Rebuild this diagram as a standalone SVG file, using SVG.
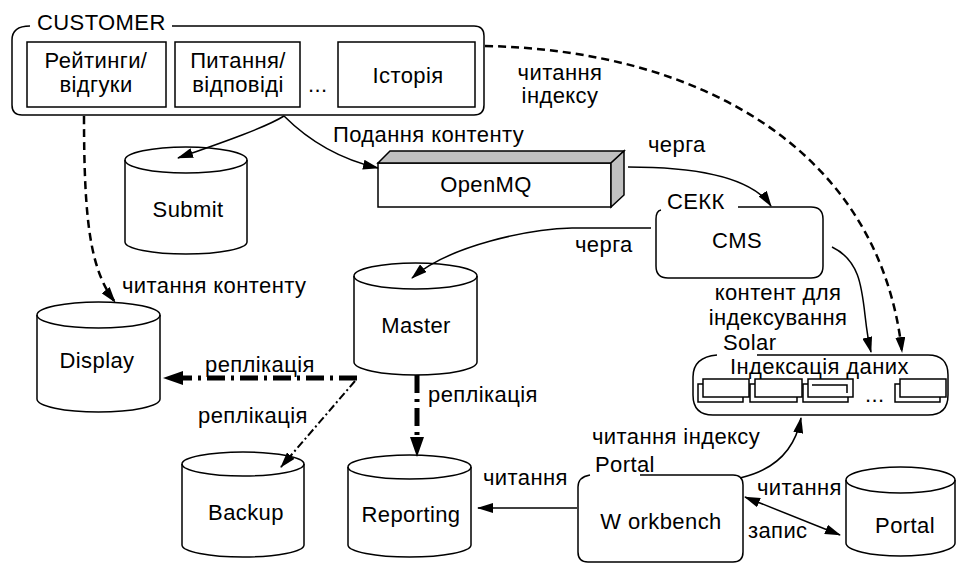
<svg xmlns="http://www.w3.org/2000/svg" width="959" height="565" viewBox="0 0 959 565">
<style>
.t{font-family:"Liberation Sans",Arial,sans-serif;font-size:22px;letter-spacing:0.4px;fill:#000}
.m{text-anchor:middle}
.box{fill:#fff;stroke:#000;stroke-width:1.5}
.ln{fill:none;stroke:#000;stroke-width:1.5}
.dash{fill:none;stroke:#000;stroke-width:2.5;stroke-dasharray:8 5}
.rep{fill:none;stroke:#000;stroke-width:5;stroke-dasharray:18 6 3 6}
.rep2{fill:none;stroke:#000;stroke-width:2;stroke-dasharray:8 3 2 3}
.grey{fill:#c0c0c0;stroke:#000;stroke-width:1.5}
.ah{fill:#000;stroke:none}
</style>
<defs>
<marker id="a" viewBox="0 0 16 10" refX="15" refY="5" markerWidth="16" markerHeight="10" markerUnits="userSpaceOnUse" orient="auto-start-reverse"><path class="ah" d="M0,0 L16,5 L0,10 z"/></marker>
<marker id="b" viewBox="0 0 20 14" refX="1" refY="7" markerWidth="20" markerHeight="14" markerUnits="userSpaceOnUse" orient="auto"><path class="ah" d="M0,0 L20,7 L0,14 z"/></marker>
</defs>

<g id="customer">
<path class="ln" d="M30,26 Q12,26 12,40 V105 Q12,115 22,115 H474 Q484,115 484,105 V36 Q484,26 474,26 H172"/>
<text class="t" x="37" y="30">CUSTOMER</text>
</g>
<g id="ratings">
<rect class="box" x="27" y="42" width="139" height="65"/>
<text class="t m" x="96" y="68">Рейтинги/</text>
<text class="t m" x="96" y="92">відгуки</text>
</g>
<g id="questions">
<rect class="box" x="175" y="42" width="125" height="65"/>
<text class="t m" x="238" y="68">Питання/</text>
<text class="t m" x="238" y="92">відповіді</text>
</g>
<text class="t" x="308" y="92">...</text>
<g id="history">
<rect class="box" x="338" y="42" width="137" height="65"/>
<text class="t m" x="408" y="83">Історія</text>
</g>

<g id="submit">
<path class="box" d="M125,160 A61,13 0 0 1 247,160 V242 A61,12 0 0 1 125,242 Z"/>
<path class="ln" d="M125,160 A61,13 0 0 0 247,160"/>
<text class="t m" x="188" y="217">Submit</text>
</g>

<g id="openmq">
<rect class="box" x="378" y="163" width="233" height="44"/>
<polygon class="grey" points="378,163 390,151 624,151 611,163"/>
<polygon class="grey" points="611,163 624,151 624,195 611,207"/>
<text class="t m" x="486" y="192">OpenMQ</text>
</g>

<g id="cms">
<path class="ln" d="M738,207 H811 Q823,207 823,219 V266 Q823,278 811,278 H668 Q656,278 656,266 V219 Q656,211 661,210"/>
<text class="t" x="667" y="209">СЕКК</text>
<text class="t m" x="737" y="248">CMS</text>
</g>

<g id="display">
<path class="box" d="M37,315 A61.5,13 0 0 1 160,315 V399 A61.5,13 0 0 1 37,399 Z"/>
<path class="ln" d="M37,315 A61.5,13 0 0 0 160,315"/>
<text class="t m" x="97" y="368">Display</text>
</g>

<g id="master">
<path class="box" d="M354,276 A61.5,13 0 0 1 477,276 V362 A61.5,13 0 0 1 354,362 Z"/>
<path class="ln" d="M354,276 A61.5,13 0 0 0 477,276"/>
<text class="t m" x="416" y="333">Master</text>
</g>

<g id="backup">
<path class="box" d="M182,464 A61,12 0 0 1 304,464 V545 A61,12 0 0 1 182,545 Z"/>
<path class="ln" d="M182,464 A61,12 0 0 0 304,464"/>
<text class="t m" x="246" y="520">Backup</text>
</g>

<g id="reporting">
<path class="box" d="M348,467 A61.5,12 0 0 1 471,467 V545 A61.5,12 0 0 1 348,545 Z"/>
<path class="ln" d="M348,467 A61.5,12 0 0 0 471,467"/>
<text class="t m" x="411" y="522">Reporting</text>
</g>

<g id="portaldb">
<path class="box" d="M846,480 A54.5,13 0 0 1 955,480 V543 A54.5,13 0 0 1 846,543 Z"/>
<path class="ln" d="M846,480 A54.5,13 0 0 0 955,480"/>
<text class="t m" x="905" y="533">Portal</text>
</g>

<g id="workbench">
<path class="ln" d="M640,475 H733 Q743,475 743,485 V552 Q743,562 733,562 H588 Q578,562 578,552 V487 Q578,477 590,475"/>
<text class="t" x="595" y="472">Portal</text>
<text class="t m" x="661" y="529">W orkbench</text>
</g>

<g id="solar">
<path class="ln" d="M757,355 H928 Q948,355 948,375 V395 Q948,415 928,415 H713 Q693,415 693,395 V377 Q693,357 717,355"/>
<text class="t" x="723" y="350">Solar</text>
<text class="t" x="730" y="374">Індексація даних</text>
<g class="ln">
<rect x="698" y="384" width="45" height="18"/>
<rect class="box" x="703" y="379" width="46" height="18"/>
<rect x="750" y="384" width="47" height="18"/>
<rect class="box" x="755" y="379" width="47" height="18"/>
<rect x="803" y="384" width="45" height="18"/>
<rect class="box" x="808" y="379" width="45" height="18"/>
<path d="M812,385 H847 V393"/>
<rect x="895" y="384" width="45" height="18"/>
<rect class="box" x="900" y="379" width="46" height="18"/>
</g>
<text class="t" x="865" y="402">...</text>
</g>

<g id="connectors">
<path class="ln" marker-end="url(#a)" d="M284,116 C265,128 215,145 178,158"/>
<path class="ln" marker-end="url(#a)" d="M284,116 C300,132 330,157 378,168"/>
<path class="ln" marker-end="url(#a)" d="M628,167 C700,167 752,178 771,206"/>
<path class="ln" marker-end="url(#a)" d="M651,228 H572 C530,229 450,245 412,278"/>
<path class="ln" marker-end="url(#a)" d="M832,247 C870,265 860,310 871,352"/>
<path class="dash" marker-end="url(#a)" d="M485,46 C700,50 880,150 902,352"/>
<path class="dash" marker-end="url(#a)" d="M84,116 C84,220 90,270 115,302"/>
<path class="rep" marker-end="url(#b)" d="M357,378 H182"/>
<path class="rep2" marker-end="url(#a)" d="M355,381 L281,467"/>
<path class="rep" marker-end="url(#b)" d="M417,375 V438"/>
<path class="ln" marker-end="url(#a)" d="M577,508 H478"/>
<path class="ln" marker-end="url(#a)" d="M740,478 C775,470 795,450 801,418"/>
<path class="ln" marker-start="url(#a)" marker-end="url(#a)" d="M745,497 L840,535"/>
<text class="t" x="333" y="142">Подання контенту</text>
<text class="t" x="648" y="152">черга</text>
<text class="t" x="575" y="252">черга</text>
<text class="t m" x="560" y="80">читання</text>
<text class="t m" x="560" y="103">індексу</text>
<text class="t" x="122" y="293">читання контенту</text>
<text class="t m" x="778" y="300">контент для</text>
<text class="t m" x="778" y="325">індексування</text>
<text class="t" x="205" y="372">реплікація</text>
<text class="t" x="198" y="423">реплікація</text>
<text class="t" x="428" y="402">реплікація</text>
<text class="t" x="483" y="485">читання</text>
<text class="t" x="592" y="444">читання індексу</text>
<text class="t" x="757" y="495">читання</text>
<text class="t" x="748" y="538">запис</text>
</g>
</svg>
